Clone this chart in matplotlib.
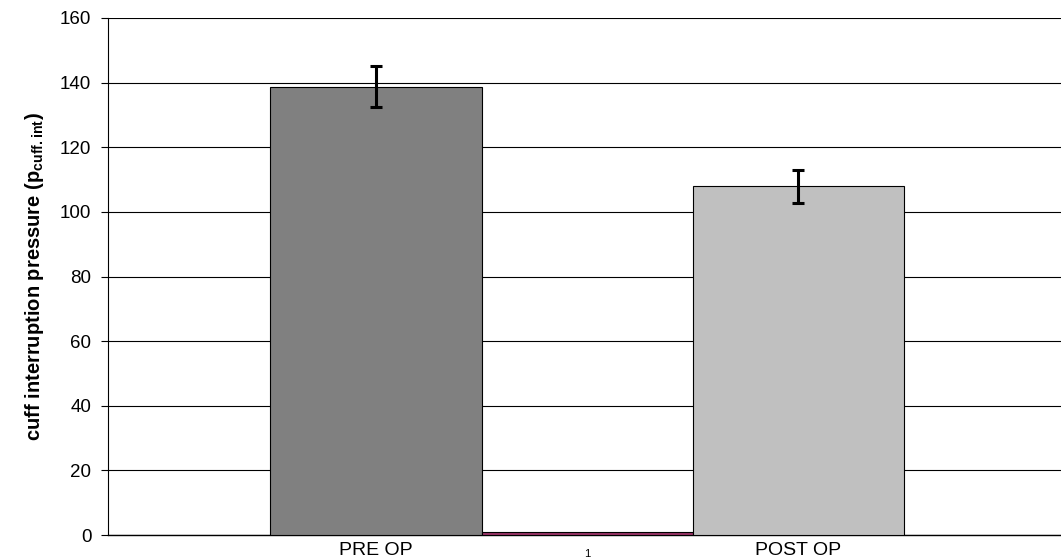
import matplotlib.pyplot as plt

plt.rcParams['font.family'] = ['Liberation Sans', 'DejaVu Sans']
plt.rcParams['mathtext.fontset'] = 'custom'
plt.rcParams['mathtext.rm'] = 'Liberation Sans'
plt.rcParams['mathtext.bf'] = 'Liberation Sans:bold'

# chart values
labels = ["PRE OP", "1", "POST OP"]
values = [138.8, 0.9, 108.0]
errors = [6.3, 0.0, 5.1]
colors = ["#808080", "#993366", "#c0c0c0"]
yticks = [0, 20, 40, 60, 80, 100, 120, 140, 160]

fig = plt.figure(figsize=(10.61, 5.6), dpi=100)
ax = fig.add_axes([108 / 1061, 1 - 535 / 560, 1 - 108 / 1061, (535 - 18) / 560])

x = [-1, 0, 1]
ax.bar(x, values, width=1.0, color=colors, edgecolor="black", linewidth=0.8, zorder=3)
ax.errorbar([x[0], x[2]], [values[0], values[2]], yerr=[errors[0], errors[2]],
            fmt="none", ecolor="black", elinewidth=2.2, capsize=4.3, capthick=2.2, zorder=4)

ax.set_xlim(-2.27, 2.246)
ax.set_ylim(0, 160)
ax.set_yticks(yticks)
ax.yaxis.grid(True, color="black", linewidth=0.8, zorder=0)
ax.set_axisbelow(True)
ax.tick_params(axis="y", labelsize=13.5, length=5, width=0.8, direction="out", pad=7)
ax.set_xticks([])

for s in ["top", "right"]:
    ax.spines[s].set_visible(False)
ax.spines["left"].set_linewidth(0.8)
ax.spines["bottom"].set_linewidth(1.0)

# category labels under the bars
ax.text(x[0], -2.3, labels[0], ha="center", va="top", fontsize=14)
ax.text(x[2], -2.3, labels[2], ha="center", va="top", fontsize=14)
ax.text(x[1], -4.4, labels[1], ha="center", va="top", fontsize=8)

ax.set_ylabel("cuff interruption pressure (p$_{\\mathbf{cuff.int}}$)", fontsize=14.5,
              fontweight="bold", labelpad=10)

fig.savefig("out.png", dpi=100)
